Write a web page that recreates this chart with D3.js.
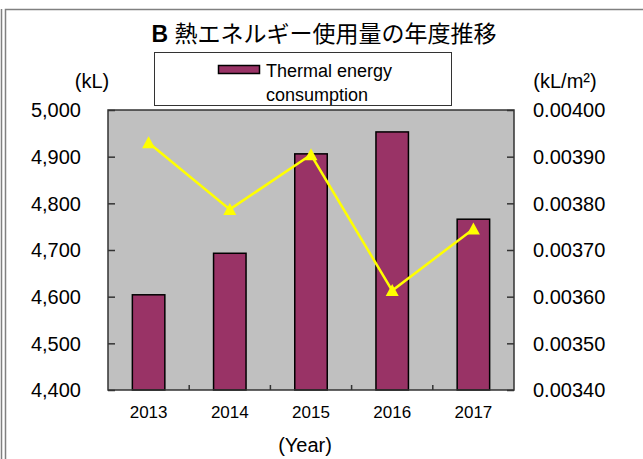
<!DOCTYPE html>
<html>
<head>
<meta charset="utf-8">
<style>
body { margin: 0; background: #fff; }
svg { display: block; }
text { font-family: "Liberation Sans", Arial, "Noto Sans CJK JP", sans-serif; fill: #000; }
</style>
</head>
<body>
<svg width="643" height="459"></svg>
<script src="https://cdn.jsdelivr.net/npm/d3@7"></script>
<script>
// values
var years = ["2013", "2014", "2015", "2016", "2017"];
var consumption = [4604, 4693, 4906, 4953, 4766];          // kL, bars (left axis)
var intensity = [0.003930, 0.003787, 0.003904, 0.003613, 0.003745]; // kL/m2, line (right axis)
var leftTicks = [4400, 4500, 4600, 4700, 4800, 4900, 5000];
var rightTicks = [0.0034, 0.0035, 0.0036, 0.0037, 0.0038, 0.0039, 0.0040];

var svg = d3.select("svg"),
    plot = {left: 108, right: 514, top: 110, bottom: 390};

var data = years.map(function(y, i) { return {year: y, kl: consumption[i], per: intensity[i]}; });

var x = d3.scaleBand()
    .domain(years)
    .range([plot.left, plot.right])
    .paddingInner(0.6)
    .paddingOuter(0.3);
var yL = d3.scaleLinear().domain([4400, 5000]).range([plot.bottom, plot.top]);
var yR = d3.scaleLinear().domain([0.0034, 0.0040]).range([plot.bottom, plot.top]);

// outer frame lines
svg.append("line")
    .attr("x1", 1.5).attr("x2", 1.5).attr("y1", 9).attr("y2", 459)
    .attr("stroke", "#808080").attr("stroke-width", 1.5);
svg.append("path")
    .attr("d", "M5.5,459V9.5H643")
    .attr("fill", "none").attr("stroke", "#808080").attr("stroke-width", 1.5);

// plot area
svg.append("rect")
    .attr("x", plot.left).attr("y", plot.top)
    .attr("width", plot.right - plot.left).attr("height", plot.bottom - plot.top)
    .attr("fill", "#c0c0c0");

// bars
svg.append("g").selectAll("rect")
  .data(data)
  .enter().append("rect")
    .attr("x", function(d) { return x(d.year); })
    .attr("y", function(d) { return yL(d.kl); })
    .attr("width", x.bandwidth())
    .attr("height", function(d) { return yL(4400) - yL(d.kl); })
    .attr("fill", "#993366")
    .attr("stroke", "#000")
    .attr("stroke-width", 1.5);

// plot border
svg.append("rect")
    .attr("x", plot.left).attr("y", plot.top)
    .attr("width", plot.right - plot.left).attr("height", plot.bottom - plot.top)
    .attr("fill", "none").attr("stroke", "#333").attr("stroke-width", 1.5);

// left axis (ticks point inward)
var gl = svg.append("g")
    .attr("transform", "translate(" + plot.left + ",0)")
    .call(d3.axisRight(yL).tickValues(leftTicks).tickSize(7).tickFormat(""));
gl.select(".domain").remove();
gl.selectAll(".tick line").attr("stroke", "#333").attr("stroke-width", 1.5);
svg.append("g").selectAll("text")
  .data(leftTicks)
  .enter().append("text")
    .attr("x", 81)
    .attr("y", function(d) { return yL(d); })
    .attr("dy", "0.36em")
    .attr("text-anchor", "end")
    .attr("font-size", 20)
    .text(d3.format(","));

// right axis
var gr = svg.append("g")
    .attr("transform", "translate(" + plot.right + ",0)")
    .call(d3.axisLeft(yR).tickValues(rightTicks).tickSize(7).tickFormat(""));
gr.select(".domain").remove();
gr.selectAll(".tick line").attr("stroke", "#333").attr("stroke-width", 1.5);
svg.append("g").selectAll("text")
  .data(rightTicks)
  .enter().append("text")
    .attr("x", 533)
    .attr("y", function(d) { return yR(d); })
    .attr("dy", "0.36em")
    .attr("font-size", 20)
    .text(d3.format(".5f"));

// bottom ticks between categories
var step = x.step();
var bounds = years.slice(1).map(function(y) { return x(y) - (step - x.bandwidth()) / 2; });
svg.append("g").selectAll("line")
  .data(bounds)
  .enter().append("line")
    .attr("x1", function(d) { return d; }).attr("x2", function(d) { return d; })
    .attr("y1", plot.bottom).attr("y2", plot.bottom - 5)
    .attr("stroke", "#333").attr("stroke-width", 1.5);
svg.append("g").selectAll("text")
  .data(years)
  .enter().append("text")
    .attr("x", function(d) { return x(d) + x.bandwidth() / 2; })
    .attr("y", 418)
    .attr("text-anchor", "middle")
    .attr("font-size", 17)
    .text(function(d) { return d; });

// line series
var line = d3.line()
    .x(function(d) { return x(d.year) + x.bandwidth() / 2; })
    .y(function(d) { return yR(d.per); });
svg.append("path")
    .datum(data)
    .attr("d", line)
    .attr("fill", "none")
    .attr("stroke", "#ffff00")
    .attr("stroke-width", 2.5);
svg.append("g").selectAll("path")
  .data(data)
  .enter().append("path")
    .attr("transform", function(d) { return "translate(" + (x(d.year) + x.bandwidth() / 2) + "," + yR(d.per) + ")"; })
    .attr("d", "M0,-6.5L6.5,5.5L-6.5,5.5Z")
    .attr("fill", "#ffff00");

// title
var title = svg.append("text")
    .attr("x", 324).attr("y", 42)
    .attr("text-anchor", "middle")
    .attr("font-size", 23);
title.append("tspan").attr("font-weight", "bold").text("B ");
title.append("tspan").attr("font-family", "'Noto Sans CJK JP', sans-serif").text("熱エネルギー使用量の年度推移");

// axis unit labels
svg.append("text").attr("x", 92).attr("y", 88).attr("text-anchor", "middle")
    .attr("font-size", 20).text("(kL)");
svg.append("text").attr("x", 565).attr("y", 88).attr("text-anchor", "middle")
    .attr("font-size", 20).text("(kL/m²)");
svg.append("text").attr("x", 305).attr("y", 452).attr("text-anchor", "middle")
    .attr("font-size", 20).text("(Year)");

// legend
svg.append("rect")
    .attr("x", 154.5).attr("y", 52.5).attr("width", 297).attr("height", 53)
    .attr("fill", "#fff").attr("stroke", "#333").attr("stroke-width", 1);
svg.append("rect")
    .attr("x", 218.5).attr("y", 65.5).attr("width", 41).attr("height", 8)
    .attr("fill", "#993366").attr("stroke", "#000").attr("stroke-width", 1.5);
svg.append("text").attr("x", 266).attr("y", 77).attr("font-size", 18).text("Thermal energy");
svg.append("text").attr("x", 266).attr("y", 101).attr("font-size", 18).text("consumption");
</script>
</body>
</html>
